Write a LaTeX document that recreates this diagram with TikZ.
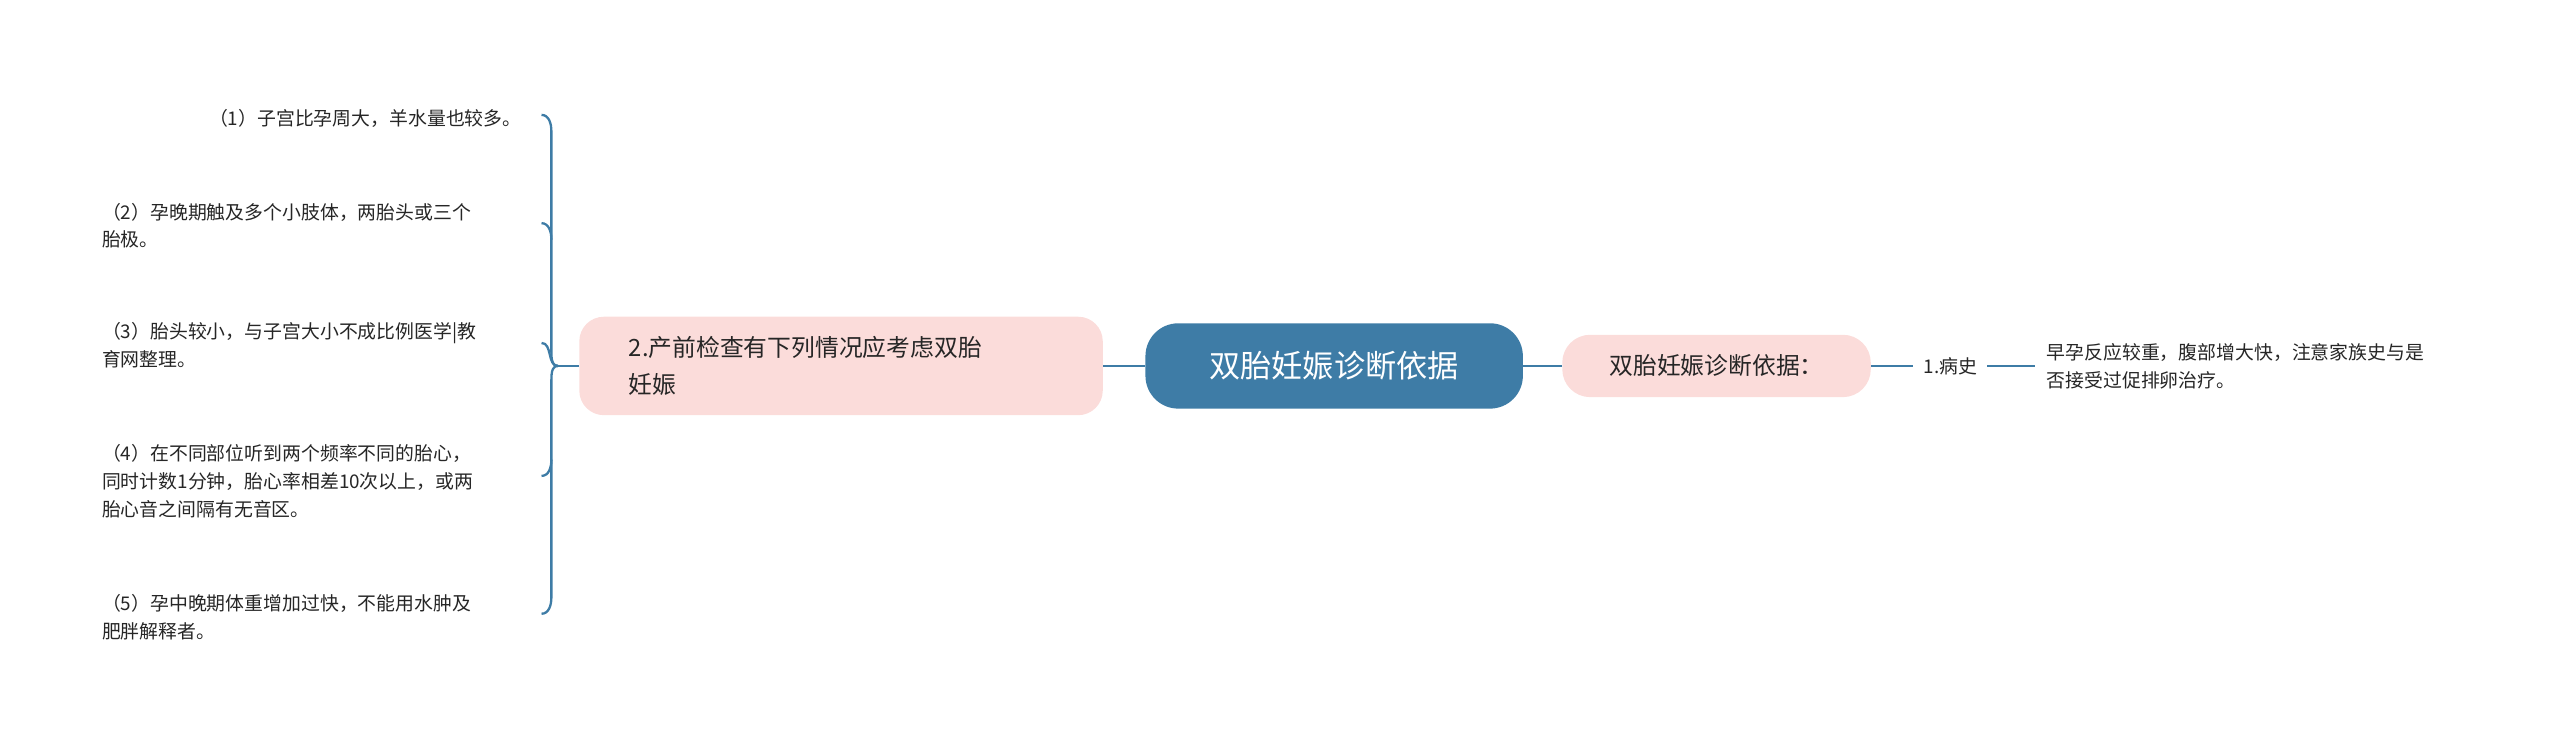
\documentclass[tikz,border=0pt]{standalone}
\usepackage{fontspec}
\setmainfont{Noto Sans CJK SC}
\begin{document}
\begin{tikzpicture}[x=1pt,y=-1pt,
  line/.style={draw=blu,line width=1.4pt},
  pinkbox/.style={fill=pinkc,rounded corners=15pt,inner sep=0pt},
  small/.style={font=\fontsize{11.5}{17}\selectfont,text=black!85,align=left,anchor=west,inner sep=0pt}]
\definecolor{blu}{HTML}{3E7CA6}
\definecolor{pinkc}{HTML}{FBDCDA}
\useasboundingbox (0,0) rectangle (1560,453);
\node[fill=blu,rounded corners=20pt,minimum width=230pt,minimum height=52pt,text=white,font=\fontsize{19}{22}\selectfont] (c) at (813,223) {双胎妊娠诊断依据};
\node[pinkbox,minimum width=319pt,minimum height=60pt] (l) at (512.5,223) {};
\node[font=\fontsize{14.5}{22}\selectfont,align=left,anchor=west,inner sep=0pt,text=black!85] (lt) at (383,223) {2.产前检查有下列情况应考虑双胎\\妊娠};
\node[pinkbox,rounded corners=17pt,minimum width=188pt,minimum height=38pt,font=\fontsize{14.5}{18}\selectfont,text=black!85] (r) at (1046,223) {双胎妊娠诊断依据：};
\node[small] (h) at (1172,223) {1.病史};
\node[small] (ht) at (1247,223) {早孕反应较重，腹部增大快，注意家族史与是\\否接受过促排卵治疗。};
\draw[line] (c.west) -- (l.east);
\draw[line] (c.east) -- (r.west);
\draw[line] (r.east) -- ([xshift=-6pt]h.west);
\draw[line] ([xshift=6pt]h.east) -- ([xshift=-7pt]ht.west);
\coordinate (j) at (340,223);
\draw[line] (l.west) -- (j);
\node[small,anchor=east] (a1) at (318,72) {（1）子宫比孕周大，羊水量也较多。};
\node[small] (a2) at (62,137.5) {（2）孕晚期触及多个小肢体，两胎头或三个\\胎极。};
\node[small] (a3) at (62,210.5) {（3）胎头较小，与子宫大小不成比例医学|教\\育网整理。};
\node[small] (a4) at (62,293) {（4）在不同部位听到两个频率不同的胎心，\\同时计数1分钟，胎心率相差10次以上，或两\\胎心音之间隔有无音区。};
\node[small] (a5) at (62,376) {（5）孕中晚期体重增加过快，不能用水肿及\\肥胖解释者。};
\coordinate (e1) at (330,70);
\coordinate (e2) at (330,136);
\coordinate (e3) at (330,209);
\coordinate (e4) at (330,290);
\coordinate (e5) at (330,374);
\draw[line] (j) to[out=180,in=-90] (336,213) -- (336,80) to[out=90,in=0] (e1);
\draw[line] (j) to[out=180,in=90] (336,233) -- (336,364) to[out=-90,in=0] (e5);
\draw[line] (336,146) to[out=90,in=0] (e2);
\draw[line] (j) to[out=180,in=0] (e3);
\draw[line] (336,280) to[out=-90,in=0] (e4);
\end{tikzpicture}
\end{document}
